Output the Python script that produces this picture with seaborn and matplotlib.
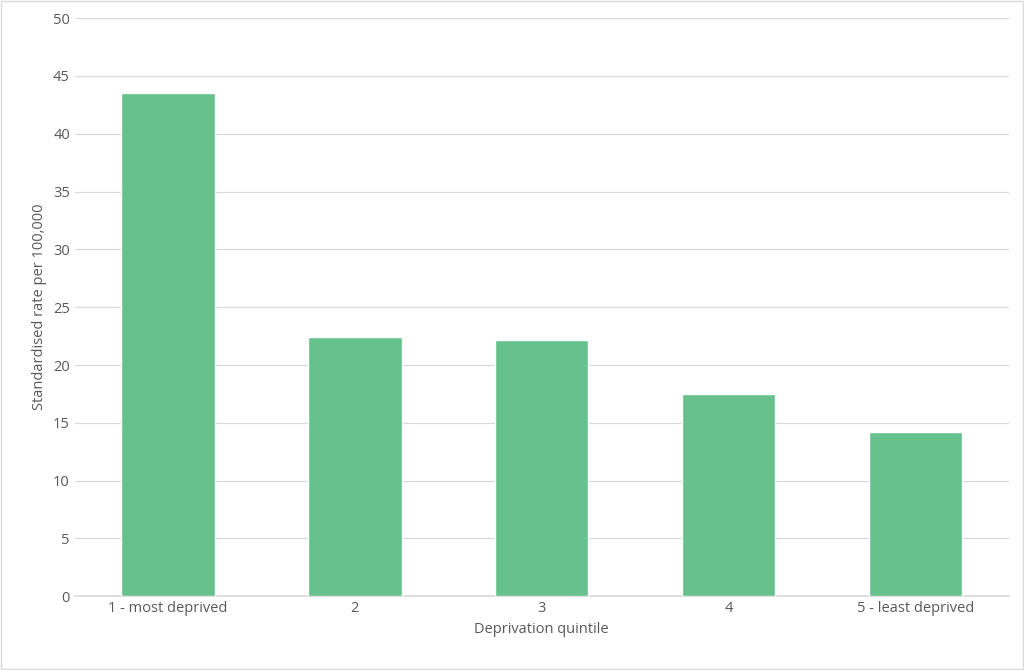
import matplotlib
matplotlib.use("Agg")
import matplotlib.pyplot as plt
import pandas as pd
import seaborn as sns

quintiles = ["1 - most deprived", "2", "3", "4", "5 - least deprived"]
rates = [43.5, 22.4, 22.2, 17.5, 14.2]
y_ticks = list(range(0, 55, 5))

df = pd.DataFrame({"quintile": quintiles, "rate": rates})

sns.set_theme(style="white")
plt.rcParams["font.family"] = ["Open Sans", "DejaVu Sans"]

fig, ax = plt.subplots(figsize=(10.24, 6.7), dpi=100)
fig.subplots_adjust(left=0.073, right=0.985, top=0.973, bottom=0.11)
sns.barplot(data=df, x="quintile", y="rate", color="#66C18C", saturation=1,
            width=0.5, ax=ax, zorder=3)

ax.set_ylim(0, 50)
ax.set_yticks(y_ticks)
ax.yaxis.grid(True, color="#D9D9D9", linewidth=0.9, zorder=0)
for side in ["left", "right", "top"]:
    ax.spines[side].set_visible(False)
ax.spines["bottom"].set_color("#D9D9D9")
ax.tick_params(axis="both", length=0, labelsize=10.5, labelcolor="#595959")
ax.set_xlabel("Deprivation quintile", fontsize=10.5, color="#595959")
ax.set_ylabel("Standardised rate per 100,000", fontsize=10.5, color="#595959")

fig.patches.append(plt.Rectangle((0.001, 0.001), 0.998, 0.998, transform=fig.transFigure,
                                 fill=False, edgecolor="#D9D9D9", linewidth=1))

fig.savefig("out.png", dpi=100)
